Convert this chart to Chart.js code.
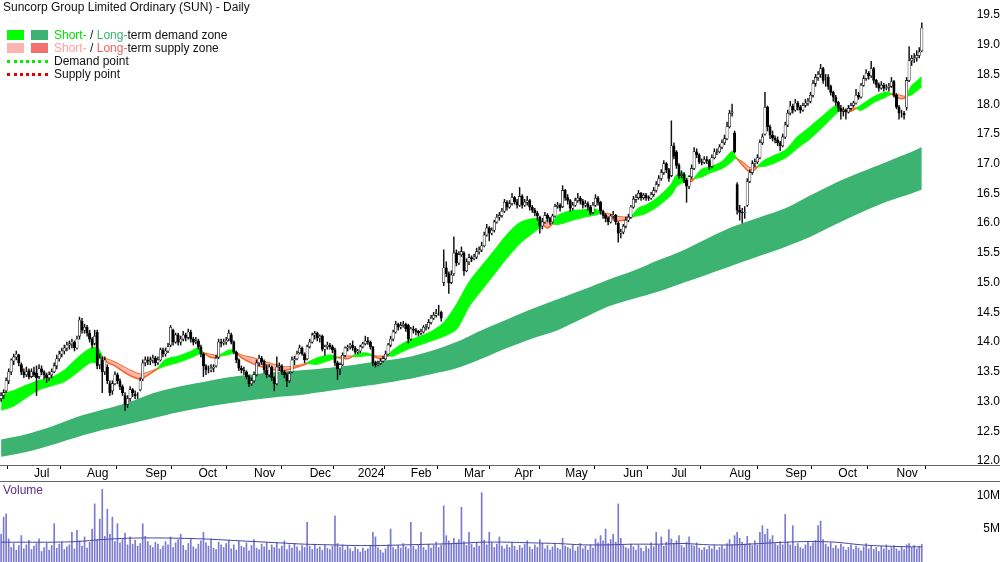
<!DOCTYPE html>
<html>
<head>
<meta charset="utf-8">
<script src="https://cdn.jsdelivr.net/npm/chart.js@4.4.0/dist/chart.umd.min.js"></script>
<style>
  body { margin: 0; background: #fff; width: 1000px; height: 562px; overflow: hidden; position: relative;
         font-family: "Liberation Sans", Arial, sans-serif; font-size: 12px; color: #111; }
  #priceBox { position: absolute; left: 0; top: 0; width: 1000px; height: 481px; }
  #volBox { position: absolute; left: 0; top: 482px; width: 1000px; height: 80px; }
  .hline { position: absolute; left: 0; width: 1000px; height: 1px; background: #666; }
  .lg { position: absolute; white-space: nowrap; line-height: 13px; }
  .box { position: absolute; width: 17px; height: 10px; }
  .dots { position: absolute; width: 41px; height: 0; border-top: 3px dotted; }
</style>
</head>
<body>
<div id="priceBox"><canvas id="priceChart" width="1000" height="481"></canvas></div>
<div id="volBox"><canvas id="volChart" width="1000" height="80"></canvas></div>
<div class="hline" style="top:465px"></div>
<div class="hline" style="top:481px"></div>

<div class="lg" style="left:3px;top:1px">Suncorp Group Limited Ordinary (SUN) - Daily</div>
<span class="box" style="left:7px;top:30px;background:#00ff00"></span>
<span class="box" style="left:31px;top:30px;background:#3cb371"></span>
<div class="lg" style="left:54px;top:29px"><span style="color:#00dd00">Short-</span> / <span style="color:#3cb371">Long-</span>term demand zone</div>
<span class="box" style="left:7px;top:43px;background:#ffb3b3"></span>
<span class="box" style="left:31px;top:43px;background:#f27070"></span>
<div class="lg" style="left:54px;top:42px"><span style="color:#ffa0a0">Short-</span> / <span style="color:#f06060">Long-</span>term supply zone</div>
<span class="dots" style="left:7px;top:60px;border-color:#00ee00"></span>
<div class="lg" style="left:54px;top:55px">Demand point</div>
<span class="dots" style="left:7px;top:73px;border-color:#e00000"></span>
<div class="lg" style="left:54px;top:68px">Supply point</div>
<div class="lg" style="left:3px;top:484px;color:#5a2d91">Volume</div>

<script>
// daily candles, Jun 2023 -> Nov 2024 (index = trading day)
const opens = [
  13.05,13.1,13.18,13.35,13.5,13.68,13.75,13.78,13.62,13.5,
  13.45,13.52,13.42,13.5,13.48,13.42,13.55,13.5,13.45,13.4,
  13.45,13.5,13.6,13.72,13.8,13.85,13.9,13.95,13.97,14.0,
  13.9,14.1,14.35,14.2,14.25,14.15,14.05,13.98,14.17,13.62,
  13.7,13.5,13.58,13.3,13.18,13.3,13.45,13.35,13.25,13.1,
  12.95,13.05,13.2,13.12,13.1,13.2,13.38,13.65,13.7,13.68,
  13.7,13.73,13.65,13.7,13.87,13.8,13.85,13.95,14.2,14.0,
  14.12,14.0,14.05,14.12,14.08,14.17,14.05,14.0,14.02,13.92,
  13.8,13.6,13.53,13.53,13.56,13.6,13.75,14.0,13.98,14.0,
  14.05,14.12,14.0,13.83,13.7,13.56,13.53,13.5,13.42,13.3,
  13.35,13.45,13.65,13.73,13.67,13.53,13.45,13.58,13.4,13.3,
  13.58,13.6,13.5,13.45,13.35,13.5,13.7,13.72,13.82,13.9,
  13.8,13.72,13.92,14.0,14.12,14.15,14.07,14.1,13.88,13.92,
  13.95,13.92,13.87,13.65,13.55,13.62,13.78,13.9,13.92,13.95,
  13.9,13.83,13.85,13.92,13.97,14.02,14.0,13.92,13.65,13.62,
  13.64,13.68,13.72,13.8,13.95,14.05,14.17,14.3,14.25,14.28,
  14.3,14.28,14.05,14.22,14.2,14.18,14.15,14.17,14.25,14.25,
  14.33,14.4,14.45,14.48,14.5,15.0,15.25,15.15,15.0,15.15,
  15.5,15.33,15.47,15.5,15.2,15.35,15.42,15.4,15.43,15.52,
  15.55,15.62,15.8,15.92,15.83,15.88,16.02,16.1,16.13,16.2,
  16.35,16.27,16.33,16.43,16.36,16.3,16.45,16.3,16.35,16.38,
  16.27,16.22,16.17,16.1,15.95,16.02,16.13,16.08,16.02,16.12,
  16.28,16.3,16.28,16.55,16.43,16.38,16.25,16.3,16.38,16.42,
  16.37,16.3,16.33,16.27,16.18,16.3,16.42,16.35,16.2,16.13,
  16.08,16.02,16.12,16.13,16.0,15.83,15.85,15.95,16.05,16.1,
  16.27,16.4,16.43,16.5,16.43,16.47,16.43,16.42,16.48,16.55,
  16.65,16.75,16.85,17.0,16.9,16.8,17.3,17.2,16.97,16.8,
  16.82,16.72,16.62,16.78,16.92,17.2,17.15,17.03,17.02,17.07,
  17.05,16.95,17.1,17.2,17.2,17.28,17.35,17.42,17.62,17.85,
  17.52,16.65,16.22,16.18,16.17,16.3,16.7,16.85,17.0,17.03,
  17.1,17.35,17.5,17.95,17.62,17.48,17.43,17.4,17.35,17.3,
  17.45,17.65,17.85,17.97,17.9,18.02,17.95,17.9,17.98,18.02,
  18.05,18.15,18.35,18.45,18.5,18.6,18.4,18.45,18.3,18.2,
  18.12,18.03,17.93,17.88,17.9,17.87,17.93,17.98,18.02,18.15,
  18.12,18.32,18.43,18.52,18.48,18.6,18.4,18.33,18.27,18.32,
  18.27,18.28,18.3,18.38,18.15,17.95,17.85,17.85,17.95,18.4,
  18.73,18.77,18.78,18.82,18.9
];
const highs = [
  13.15,13.2,13.4,13.55,13.72,13.8,13.85,13.8,13.65,13.55,
  13.58,13.55,13.55,13.58,13.6,13.62,13.6,13.52,13.48,13.5,
  13.55,13.65,13.78,13.85,13.9,13.95,14.0,14.02,14.05,14.02,
  14.1,14.42,14.4,14.3,14.28,14.2,14.08,14.2,14.2,13.8,
  13.75,13.75,13.62,13.35,13.35,13.5,13.48,13.38,13.28,13.15,
  13.1,13.25,13.22,13.18,13.15,13.4,13.7,13.75,13.75,13.75,
  13.78,13.76,13.75,13.9,13.9,13.9,13.98,14.28,14.22,14.15,
  14.15,14.1,14.18,14.15,14.22,14.2,14.08,14.08,14.05,13.95,
  13.82,13.62,13.6,13.62,13.62,13.78,14.05,14.05,14.05,14.08,
  14.2,14.15,14.02,13.85,13.72,13.6,13.58,13.52,13.45,13.4,
  13.5,13.7,13.78,13.76,13.7,13.62,13.62,13.6,13.42,13.75,
  13.65,13.62,13.52,13.48,13.5,13.75,13.76,13.85,13.95,13.92,
  13.82,13.95,14.05,14.15,14.18,14.17,14.12,14.12,13.95,14.0,
  13.98,13.95,13.9,13.68,13.65,13.82,13.92,13.95,13.98,14.02,
  13.93,13.88,13.95,14.0,14.1,14.08,14.02,13.93,13.68,13.68,
  13.72,13.76,13.85,13.98,14.1,14.2,14.35,14.32,14.33,14.35,
  14.32,14.3,14.25,14.27,14.23,14.2,14.22,14.28,14.3,14.38,
  14.45,14.5,14.55,14.62,14.52,15.55,15.35,15.18,15.2,15.77,
  15.55,15.52,15.6,15.52,15.4,15.48,15.45,15.48,15.58,15.6,
  15.68,15.85,15.98,15.94,15.92,16.05,16.15,16.18,16.25,16.4,
  16.38,16.38,16.5,16.45,16.4,16.6,16.48,16.4,16.45,16.4,
  16.3,16.25,16.2,16.12,16.08,16.18,16.16,16.1,16.15,16.32,
  16.35,16.33,16.63,16.57,16.48,16.4,16.35,16.42,16.5,16.45,
  16.4,16.38,16.36,16.3,16.35,16.48,16.45,16.37,16.22,16.16,
  16.1,16.15,16.2,16.15,16.02,15.9,15.98,16.1,16.15,16.3,
  16.45,16.48,16.55,16.52,16.5,16.5,16.46,16.52,16.6,16.7,
  16.8,16.9,17.05,17.02,16.92,17.72,17.35,17.22,17.0,16.88,
  16.85,16.75,16.8,16.98,17.27,17.25,17.17,17.08,17.12,17.12,
  17.07,17.15,17.25,17.25,17.32,17.4,17.48,17.7,17.9,18.0,
  17.55,16.68,16.3,16.25,16.28,16.75,16.9,17.05,17.08,17.15,
  17.4,17.5,18.2,17.97,17.65,17.55,17.47,17.45,17.38,17.5,
  17.7,17.9,18.05,18.0,18.08,18.05,17.98,18.02,18.08,18.1,
  18.2,18.4,18.5,18.55,18.67,18.62,18.5,18.5,18.32,18.22,
  18.15,18.05,17.98,17.95,17.92,17.98,18.02,18.05,18.25,18.2,
  18.35,18.48,18.58,18.55,18.72,18.62,18.42,18.36,18.38,18.35,
  18.33,18.35,18.45,18.4,18.18,17.98,17.9,17.88,18.45,18.97,
  18.82,18.85,18.9,18.95,19.37
];
const lows = [
  13.0,13.05,13.15,13.3,13.45,13.62,13.7,13.6,13.45,13.4,
  13.42,13.38,13.4,13.42,13.1,13.38,13.45,13.38,13.32,13.35,
  13.4,13.48,13.55,13.68,13.75,13.8,13.85,13.88,13.9,13.85,
  13.88,14.05,14.15,14.15,14.1,14.0,13.9,13.95,13.55,13.55,
  13.15,13.45,13.3,13.1,13.12,13.28,13.3,13.2,13.1,12.85,
  12.9,13.0,13.08,13.05,13.05,13.18,13.35,13.6,13.62,13.62,
  13.65,13.6,13.62,13.68,13.75,13.76,13.82,13.92,13.95,13.98,
  13.95,13.95,14.02,14.02,14.05,14.0,13.95,13.97,13.88,13.75,
  13.42,13.45,13.48,13.5,13.5,13.58,13.72,13.92,13.95,13.96,
  14.02,13.97,13.8,13.65,13.52,13.48,13.45,13.38,13.25,13.27,
  13.32,13.43,13.6,13.62,13.48,13.4,13.42,13.35,13.18,13.28,
  13.52,13.45,13.4,13.25,13.32,13.48,13.62,13.7,13.8,13.78,
  13.65,13.7,13.9,13.98,14.05,14.02,14.0,13.85,13.78,13.88,
  13.88,13.82,13.6,13.37,13.45,13.6,13.75,13.85,13.88,13.86,
  13.8,13.8,13.82,13.9,13.95,13.96,13.88,13.6,13.58,13.6,
  13.62,13.66,13.7,13.78,13.92,14.02,14.15,14.2,14.22,14.25,
  14.18,13.98,14.03,14.15,14.12,14.1,14.12,14.15,14.2,14.22,
  14.3,14.38,14.42,14.45,14.35,14.95,15.1,14.82,14.98,15.12,
  15.28,15.3,15.44,15.12,15.18,15.3,15.35,15.38,15.4,15.48,
  15.52,15.6,15.78,15.7,15.8,15.85,16.0,16.05,16.1,16.18,
  16.22,16.25,16.3,16.32,16.25,16.28,16.25,16.28,16.3,16.22,
  16.18,16.12,16.05,15.83,15.9,16.0,16.02,15.98,16.0,16.1,
  16.25,16.2,16.26,16.38,16.32,16.2,16.22,16.28,16.35,16.32,
  16.25,16.27,16.22,16.14,16.16,16.28,16.3,16.15,16.08,16.02,
  15.97,16.0,16.08,15.98,15.68,15.75,15.82,15.92,16.02,16.08,
  16.25,16.35,16.4,16.38,16.4,16.38,16.38,16.4,16.45,16.52,
  16.62,16.72,16.82,16.85,16.7,16.78,17.08,16.92,16.75,16.76,
  16.68,16.35,16.58,16.75,16.9,17.1,17.0,16.98,17.0,17.0,
  16.9,16.93,17.08,17.15,17.18,17.25,17.32,17.4,17.6,17.8,
  17.18,16.15,16.05,16.0,16.08,16.28,16.68,16.82,16.95,17.0,
  17.08,17.32,17.48,17.55,17.42,17.38,17.35,17.3,17.22,17.28,
  17.42,17.62,17.82,17.85,17.88,17.9,17.85,17.88,17.95,17.98,
  18.02,18.12,18.3,18.4,18.45,18.35,18.3,18.25,18.15,18.05,
  17.98,17.88,17.75,17.8,17.75,17.85,17.9,17.95,18.0,18.08,
  18.1,18.3,18.4,18.42,18.45,18.35,18.28,18.22,18.25,18.22,
  18.24,18.22,18.28,18.12,17.92,17.75,17.78,17.75,17.9,18.38,
  18.65,18.7,18.72,18.78,18.88
];
const closes = [
  13.1,13.15,13.35,13.5,13.7,13.75,13.8,13.65,13.5,13.45,
  13.5,13.42,13.5,13.45,13.4,13.55,13.5,13.45,13.4,13.45,
  13.5,13.6,13.72,13.8,13.85,13.9,13.95,13.97,14.0,13.9,
  14.05,14.37,14.2,14.25,14.15,14.05,13.95,14.1,13.6,13.73,
  13.5,13.7,13.35,13.15,13.3,13.45,13.35,13.25,13.15,12.95,
  13.05,13.2,13.15,13.1,13.1,13.35,13.65,13.7,13.68,13.7,
  13.73,13.65,13.7,13.87,13.8,13.85,13.92,14.25,14.0,14.12,
  14.0,14.05,14.12,14.08,14.17,14.05,14.0,14.02,13.92,13.8,
  13.6,13.53,13.53,13.56,13.58,13.73,14.0,13.98,14.0,14.03,
  14.15,14.0,13.83,13.7,13.56,13.53,13.52,13.42,13.3,13.35,
  13.45,13.65,13.73,13.67,13.53,13.45,13.58,13.4,13.3,13.58,
  13.6,13.5,13.45,13.35,13.47,13.7,13.72,13.8,13.9,13.8,
  13.7,13.92,14.0,14.12,14.15,14.07,14.1,13.88,13.92,13.95,
  13.92,13.87,13.65,13.55,13.62,13.78,13.9,13.92,13.95,13.9,
  13.83,13.85,13.92,13.97,14.02,14.0,13.92,13.65,13.62,13.64,
  13.68,13.72,13.8,13.95,14.05,14.17,14.3,14.25,14.28,14.3,
  14.22,14.05,14.22,14.2,14.18,14.15,14.17,14.25,14.25,14.33,
  14.4,14.45,14.48,14.48,14.4,15.25,15.15,15.0,15.13,15.5,
  15.33,15.47,15.52,15.2,15.35,15.42,15.4,15.43,15.52,15.55,
  15.62,15.8,15.92,15.83,15.88,16.02,16.1,16.13,16.2,16.35,
  16.27,16.33,16.43,16.36,16.3,16.45,16.3,16.35,16.38,16.27,
  16.22,16.17,16.12,15.95,16.02,16.13,16.08,16.02,16.12,16.28,
  16.3,16.26,16.55,16.43,16.38,16.25,16.3,16.38,16.42,16.37,
  16.3,16.33,16.27,16.18,16.3,16.42,16.35,16.2,16.13,16.08,
  16.02,16.12,16.13,16.02,15.83,15.85,15.95,16.05,16.1,16.27,
  16.4,16.43,16.5,16.43,16.47,16.43,16.42,16.48,16.55,16.65,
  16.75,16.85,17.0,16.9,16.75,17.3,17.12,16.97,16.8,16.82,
  16.72,16.62,16.78,16.92,17.2,17.15,17.03,17.02,17.07,17.05,
  16.95,17.1,17.2,17.2,17.28,17.35,17.42,17.62,17.85,17.87,
  17.2,16.22,16.18,16.17,16.18,16.7,16.85,17.0,17.03,17.1,
  17.35,17.45,17.95,17.62,17.48,17.43,17.4,17.35,17.3,17.45,
  17.65,17.85,17.97,17.9,18.02,17.95,17.9,17.98,18.02,18.05,
  18.15,18.35,18.45,18.5,18.6,18.4,18.4,18.3,18.2,18.12,
  18.03,17.93,17.88,17.9,17.87,17.93,17.98,18.02,18.15,18.12,
  18.32,18.43,18.52,18.48,18.6,18.4,18.33,18.27,18.32,18.27,
  18.28,18.3,18.38,18.15,17.95,17.85,17.85,17.82,18.4,18.73,
  18.77,18.78,18.82,18.88,19.28
];
// volume, millions of shares
const volumes = [
  4.2,6.8,7.3,3.5,2.2,2.8,1.8,2.5,4.0,2.0,
  2.6,3.3,1.9,2.4,2.8,3.5,1.6,2.2,2.9,1.8,
  2.5,5.8,2.1,2.7,3.0,1.9,2.3,2.6,4.5,2.0,
  4.8,3.2,2.4,3.8,2.1,3.0,5.0,8.8,3.4,6.5,
  11.0,3.9,8.0,4.2,6.8,3.1,5.8,2.9,3.5,4.4,
  2.6,3.8,2.7,3.3,2.4,2.8,5.8,3.9,3.1,2.5,
  2.2,3.0,2.7,1.9,2.4,3.1,2.6,3.8,2.2,2.9,
  3.4,4.2,2.5,1.8,2.8,3.6,2.3,2.0,2.7,3.2,
  4.5,2.9,2.4,3.5,2.1,1.9,3.0,2.6,2.2,2.8,
  3.3,2.0,2.6,1.8,3.1,2.4,2.2,2.9,1.7,2.5,
  3.4,2.1,1.9,2.7,2.3,3.0,1.8,2.6,2.2,2.9,
  2.0,2.4,3.2,1.9,2.6,2.1,2.8,2.3,1.7,2.5,
  2.2,6.0,2.4,1.9,2.7,2.0,2.3,1.8,2.6,2.1,
  1.9,2.4,7.0,2.8,2.2,2.6,1.8,2.4,2.0,1.6,
  2.3,1.9,1.5,2.1,1.7,2.0,2.4,4.5,3.8,2.2,
  1.8,1.4,2.0,2.6,5.0,2.2,1.9,2.5,2.1,2.8,
  2.3,2.0,6.0,2.4,1.9,2.6,4.5,2.2,1.8,2.7,
  2.1,2.5,3.0,2.2,2.6,8.5,4.0,3.2,2.8,3.6,
  2.9,3.4,8.3,3.1,2.5,4.5,2.7,2.2,3.0,2.4,
  10.5,3.3,2.6,4.5,2.9,2.2,2.7,3.8,2.4,2.0,
  2.6,2.2,2.9,2.4,1.8,2.5,2.1,2.7,3.2,2.3,
  1.9,2.6,2.2,3.4,2.8,2.0,2.5,1.8,2.3,2.7,
  2.1,1.9,3.6,2.4,2.2,2.0,2.6,1.7,2.3,2.8,
  2.0,2.4,1.8,2.6,2.1,3.5,2.9,4.0,3.2,5.0,
  2.8,3.4,4.2,3.0,8.8,3.6,2.5,2.2,2.0,2.7,
  2.3,1.8,2.6,2.1,1.6,2.4,2.0,2.9,2.3,4.5,
  2.6,3.8,2.4,3.0,4.9,3.5,2.8,3.2,4.0,2.5,
  2.2,3.0,3.8,2.6,2.4,2.9,2.1,1.8,2.2,1.9,
  2.4,2.0,2.6,1.8,2.2,2.5,2.0,2.8,3.4,2.6,
  4.0,4.5,3.6,3.0,2.7,3.9,2.8,2.5,3.2,2.6,
  4.5,5.5,4.2,5.0,3.4,4.0,2.8,2.5,3.1,2.6,
  7.2,3.0,2.6,5.5,2.4,2.8,2.2,2.0,2.6,3.1,
  2.4,2.9,3.3,5.5,6.2,3.4,2.7,2.3,2.9,2.1,
  2.5,2.0,2.7,2.3,1.8,2.2,2.6,1.9,2.4,2.1,
  1.7,2.3,2.8,2.0,2.5,1.9,2.2,1.6,2.4,2.0,
  2.6,1.8,2.2,2.5,2.0,1.7,2.3,1.9,2.6,2.8,
  2.2,2.5,2.0,2.4,2.7
];
// volume average line (sampled)
const volAvgDays = [0,10,20,30,40,50,60,70,80,90,100,110,120,130,140,150,160,170,180,190,200,210,220,230,240,250,260,270,280,290,300,310,320,330,340,350,360,364];
const volAvg = [3.0,3.0,3.0,3.1,3.4,3.6,3.65,3.6,3.5,3.3,3.1,2.9,2.7,2.6,2.5,2.5,2.6,2.7,2.8,3.0,3.0,2.9,2.8,2.6,2.6,2.7,2.7,2.8,2.6,2.6,2.8,3.0,3.1,3.0,2.6,2.4,2.3,2.3];

// short-term zone (fast / slow edge), sampled
const stDays = [0,5,10,15,20,25,30,35,38,40,42,45,50,55,60,62,65,70,75,78,80,83,86,87,90,92,93,95,100,105,110,113,117,120,121,125,130,133,137,139,142,145,147,150,153,155,160,165,170,175,180,185,190,195,200,205,210,213,214,216,218,220,225,230,235,237,240,243,246,249,252,255,260,265,267,270,271,273,274,277,280,285,289,290,291,293,296,298,299,302,305,310,315,320,325,330,332,335,338,340,345,350,352,355,357,358,360,364];
const stFast = [13.13,13.18,13.27,13.35,13.4,13.52,13.72,13.88,13.9,13.76,13.66,13.6,13.46,13.38,13.5,13.56,13.7,13.76,13.84,13.9,13.82,13.74,13.75,13.79,13.86,13.86,13.82,13.74,13.63,13.56,13.52,13.53,13.58,13.62,13.65,13.73,13.78,13.74,13.72,13.76,13.81,13.81,13.77,13.72,13.77,13.86,14.0,14.08,14.17,14.32,14.62,15.0,15.27,15.53,15.8,16.0,16.07,16.05,15.99,15.92,15.99,16.12,16.2,16.22,16.23,16.18,16.1,16.04,16.05,16.1,16.25,16.3,16.44,16.65,16.8,16.84,16.73,16.7,16.75,16.9,16.94,17.03,17.2,17.14,17.08,16.98,16.86,16.9,16.95,17.06,17.12,17.22,17.45,17.62,17.8,17.97,17.92,17.87,17.93,17.98,18.12,18.2,18.17,18.1,18.1,18.14,18.3,18.45];
const stSlow = [12.86,12.93,13.07,13.2,13.27,13.34,13.49,13.65,13.66,13.72,13.71,13.66,13.55,13.46,13.52,13.55,13.6,13.66,13.74,13.8,13.81,13.79,13.76,13.77,13.79,13.82,13.82,13.78,13.73,13.66,13.6,13.58,13.6,13.63,13.64,13.63,13.7,13.74,13.76,13.76,13.76,13.78,13.77,13.76,13.77,13.77,13.87,13.95,14.02,14.1,14.22,14.6,14.88,15.15,15.42,15.66,15.83,15.93,15.98,16.0,15.99,15.98,16.04,16.1,16.14,16.17,16.16,16.12,16.1,16.1,16.13,16.17,16.3,16.48,16.62,16.7,16.72,16.73,16.75,16.78,16.84,16.92,17.04,17.1,17.08,17.03,16.93,16.93,16.95,16.96,17.0,17.1,17.27,17.43,17.63,17.84,17.9,17.91,17.93,17.9,18.03,18.13,18.17,18.15,18.13,18.14,18.16,18.3];

// long-term zone edges, sampled
const ltDays = [0,10,20,30,40,50,60,70,80,90,100,110,120,130,140,150,160,170,180,190,200,210,220,230,240,250,260,270,280,290,300,310,320,330,340,350,360,364];
const ltTop = [12.36,12.45,12.58,12.74,12.86,12.98,13.14,13.25,13.33,13.41,13.46,13.5,13.53,13.57,13.62,13.68,13.74,13.85,14.0,14.2,14.38,14.56,14.72,14.88,15.05,15.2,15.38,15.55,15.76,15.95,16.1,16.25,16.47,16.68,16.86,17.03,17.2,17.28];
const ltBot = [12.07,12.15,12.27,12.4,12.52,12.62,12.72,12.82,12.9,12.97,13.03,13.08,13.12,13.18,13.24,13.3,13.37,13.46,13.56,13.72,13.9,14.06,14.2,14.4,14.6,14.73,14.85,15.0,15.15,15.3,15.45,15.6,15.77,15.98,16.18,16.36,16.5,16.56];

// axis labels
const monthDays = [13,34,57,78,100,122,141,162,183,203,223,246,265,288,310,331,354];
const monthNames = ['Jul','Aug','Sep','Oct','Nov','Dec','2024','Feb','Mar','Apr','May','Jun','Jul','Aug','Sep','Oct','Nov'];
const priceTicks = [12,12.5,13,13.5,14,14.5,15,15.5,16,16.5,17,17.5,18,18.5,19,19.5];
const volTicks = [5,10];

const LIME = '#00ff00';
const DARKGREEN = '#3cb371';
const PINK = '#ffb3b3';
const ORANGE = '#ff5f1f';
const X_MIN = -0.43, X_MAX = 371.2;

Chart.defaults.font.family = '"Liberation Sans", Arial, sans-serif';
Chart.defaults.font.size = 12;
Chart.defaults.color = '#000';

const idx = closes.map((_, i) => i);
const pts = (days, vals) => days.map((d, i) => ({ x: d, y: vals[i] }));

function stColor(ctx) {
    const a = ctx.p0DataIndex, b = ctx.p1DataIndex;
    const d = (stFast[a] - stSlow[a]) + (stFast[b] - stSlow[b]);
    return d >= 0 ? LIME : ORANGE;
}

// keep the axes from pushing the plot area around
function noPad(s) {
    s.paddingTop = 0; s.paddingBottom = 0; s.paddingLeft = 0; s.paddingRight = 0;
}
const rightAxis = (ticks, fmt, max, min) => ({
    position: 'right', min: min, max: max,
    afterBuildTicks: s => { s.ticks = ticks.map(v => ({ value: v })); },
    afterFit: s => { s.width = 60; noPad(s); },
    ticks: { callback: fmt, crossAlign: 'far', padding: 0 },
    grid: { display: true, drawOnChartArea: false, drawTicks: true, tickLength: 36, color: 'rgba(0,0,0,0)' },
    border: { display: false }
});

const priceChart = new Chart(document.getElementById('priceChart'), {
    type: 'bar',
    data: {
        datasets: [
            { type: 'line', data: pts(ltDays, ltBot), borderWidth: 0, pointRadius: 0, tension: 0.3, fill: false, order: 10 },
            { type: 'line', data: pts(ltDays, ltTop), borderWidth: 0, pointRadius: 0, tension: 0.3,
              fill: '-1', backgroundColor: DARKGREEN, order: 9 },
            { type: 'line', data: pts(stDays, stSlow), borderWidth: 1.5, pointRadius: 0, tension: 0.3,
              borderColor: LIME, segment: { borderColor: stColor }, fill: false, order: 8 },
            { type: 'line', data: pts(stDays, stFast), borderWidth: 1.5, pointRadius: 0, tension: 0.3,
              borderColor: LIME, segment: { borderColor: stColor },
              fill: { target: '-1', above: LIME, below: PINK }, order: 7 },
            // wicks
            { data: idx.map(i => ({ x: i, y: [Math.min(lows[i], opens[i], closes[i]), Math.max(highs[i], opens[i], closes[i])] })),
              backgroundColor: '#111', borderWidth: 0, barThickness: 0.8, grouped: false, order: 2 },
            // bodies
            { data: idx.map(i => ({ x: i, y: [opens[i], closes[i]] })),
              backgroundColor: idx.map(i => closes[i] >= opens[i] ? '#fff' : '#000'),
              borderColor: '#000', borderWidth: 0.6, borderSkipped: false, barThickness: 2.4, grouped: false, order: 1 }
        ]
    },
    options: {
        responsive: false,
        animation: false,
        layout: { padding: 0 },
        plugins: { legend: { display: false }, tooltip: { enabled: false } },
        scales: {
            x: {
                type: 'linear', min: X_MIN, max: X_MAX, offset: false,
                afterBuildTicks: s => { s.ticks = monthDays.map(v => ({ value: v })); },
                afterFit: s => { s.height = 16; noPad(s); },
                ticks: { callback: (v, i) => monthNames[i], align: 'start', autoSkip: false, maxRotation: 0, padding: -3 },
                grid: { drawOnChartArea: false, drawTicks: true, tickLength: 4, color: '#000' },
                border: { display: false }
            },
            y: rightAxis(priceTicks, v => v.toFixed(1), 19.752, 11.933)
        }
    }
});

const volChart = new Chart(document.getElementById('volChart'), {
    type: 'bar',
    data: {
        datasets: [
            { type: 'line', data: pts(volAvgDays, volAvg), borderColor: '#4a44a8', borderWidth: 1, pointRadius: 0, tension: 0.3, order: 1 },
            { data: idx.map(i => ({ x: i, y: volumes[i] })), backgroundColor: '#7a7ad2', barThickness: 1, borderWidth: 0, order: 2 }
        ]
    },
    options: {
        responsive: false,
        animation: false,
        layout: { padding: 0 },
        plugins: { legend: { display: false }, tooltip: { enabled: false } },
        scales: {
            x: { type: 'linear', min: X_MIN, max: X_MAX, offset: false, display: false },
            y: rightAxis(volTicks, v => v + 'M', 12.12, 0)
        }
    }
});
</script>
</body>
</html>
